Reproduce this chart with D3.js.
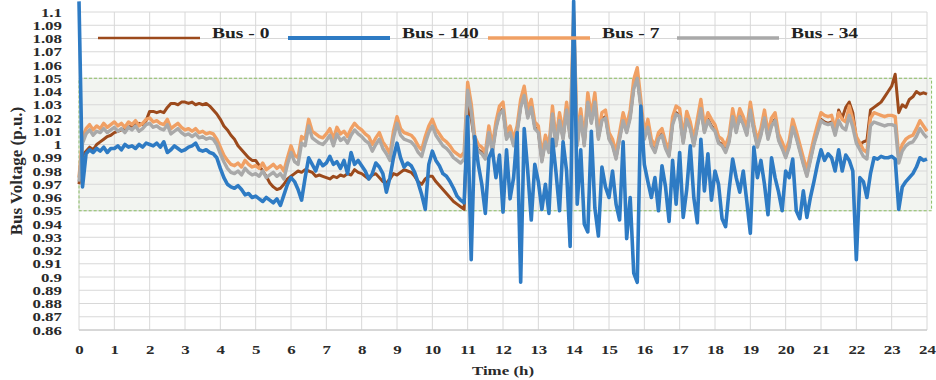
<!DOCTYPE html>
<html><head><meta charset="utf-8">
<script src="https://cdn.jsdelivr.net/npm/d3@7"></script>
<style>body{margin:0;background:#fff}svg{display:block}</style>
</head><body>
<svg id="c" width="936" height="380"></svg>
<script>
// ---- data ----
const seriesNames = ["Bus - 0", "Bus - 140", "Bus - 7", "Bus - 34"];
const xTicks = [0,1,2,3,4,5,6,7,8,9,10,11,12,13,14,15,16,17,18,19,20,21,22,23,24];
const yTicks = [0.86,0.87,0.88,0.89,0.9,0.91,0.92,0.93,0.94,0.95,0.96,0.97,0.98,0.99,1,1.01,1.02,1.03,1.04,1.05,1.06,1.07,1.08,1.09,1.1];
const limitLow = 0.95, limitHigh = 1.05;
const hours = d3.range(0, 241).map(i => i / 10); // sampling grid, 0.1 h
const bus0 = [
0.970,0.992,0.995,0.998,0.996,1.000,1.002,1.004,1.006,1.007,
1.009,1.010,1.011,1.012,1.013,1.014,1.015,1.016,1.015,1.018,
1.025,1.025,1.024,1.025,1.024,1.028,1.031,1.031,1.030,1.032,
1.032,1.031,1.032,1.030,1.031,1.030,1.031,1.029,1.026,1.023,
1.019,1.014,1.011,1.007,1.004,0.999,0.996,0.993,0.990,0.988,
0.988,0.984,0.980,0.976,0.971,0.968,0.966,0.967,0.970,0.974,
0.976,0.978,0.980,0.979,0.981,0.980,0.979,0.976,0.977,0.976,
0.975,0.974,0.976,0.975,0.977,0.976,0.978,0.977,0.981,0.979,
0.978,0.976,0.974,0.977,0.978,0.975,0.972,0.971,0.974,0.978,
0.977,0.979,0.981,0.980,0.979,0.976,0.972,0.970,0.974,0.976,
0.976,0.972,0.969,0.966,0.963,0.960,0.957,0.955,0.953,0.951,
1.030,1.020,1.002,0.996,0.994,0.990,1.010,0.995,1.013,1.024,
1.027,1.005,1.010,1.000,1.010,1.029,1.038,1.021,1.029,1.013,
1.010,0.988,1.003,0.995,1.024,1.000,1.019,1.005,1.027,1.006,
1.060,1.000,1.022,1.000,1.033,1.017,1.033,1.005,1.019,1.021,
1.005,1.000,0.990,1.005,1.019,1.010,1.021,1.043,1.051,1.029,
1.005,1.014,1.000,0.995,1.005,1.008,0.998,0.992,1.016,1.024,
1.022,1.002,1.020,1.013,1.000,1.014,1.028,1.010,1.019,1.014,
1.011,1.002,1.000,0.995,1.003,1.022,1.010,1.022,1.016,1.008,
1.027,1.011,0.999,1.008,1.021,1.005,1.015,1.019,1.004,0.998,
0.991,0.999,1.014,1.006,0.996,0.986,0.977,0.989,1.001,1.010,
1.019,1.017,1.016,1.017,1.008,1.026,1.020,1.028,1.032,1.024,
1.004,1.000,1.002,1.003,1.026,1.028,1.030,1.032,1.036,1.040,
1.044,1.053,1.024,1.030,1.028,1.034,1.036,1.040,1.038,1.039,
1.038];
const bus140 = [
1.108,0.968,0.993,0.996,0.994,0.997,0.995,0.998,0.994,0.997,
0.997,0.999,0.996,1.000,0.998,0.999,0.997,1.000,0.998,1.001,
1.000,0.999,1.001,0.998,1.002,0.994,0.996,0.999,0.997,0.995,
0.996,0.998,0.999,1.001,0.996,0.995,0.996,0.994,0.993,0.990,
0.982,0.975,0.970,0.968,0.967,0.969,0.966,0.962,0.963,0.960,
0.961,0.959,0.957,0.960,0.958,0.956,0.959,0.954,0.962,0.970,
0.975,0.972,0.966,0.958,0.975,0.990,0.985,0.980,0.988,0.984,
0.986,0.991,0.985,0.987,0.982,0.988,0.978,0.994,0.985,0.988,
0.984,0.980,0.974,0.978,0.986,0.983,0.978,0.964,0.975,0.990,
1.001,0.990,0.983,0.986,0.984,0.979,0.971,0.962,0.951,0.985,
0.995,0.988,0.984,0.978,0.976,0.972,0.967,0.961,0.958,0.956,
1.021,0.913,1.006,0.985,0.970,0.948,0.990,0.996,0.975,0.992,
0.949,0.996,0.959,0.975,1.009,0.896,1.012,0.980,0.943,0.985,
0.972,0.951,0.970,0.948,1.004,0.979,0.950,1.002,0.980,0.923,
1.108,0.955,0.996,0.940,0.934,1.010,0.952,0.931,0.983,0.968,
0.960,0.980,0.955,0.943,1.002,0.929,0.960,0.903,0.896,1.029,
0.985,0.972,0.960,0.975,0.950,0.984,0.968,0.942,0.988,0.955,
0.994,0.945,0.966,0.999,0.960,0.941,1.004,0.965,0.993,0.958,
0.980,0.970,0.944,0.938,0.966,0.989,0.975,0.964,0.980,0.957,
0.933,0.998,0.975,0.988,0.970,0.947,0.990,0.975,0.964,0.950,
0.980,0.975,0.989,0.950,0.944,0.965,0.945,0.960,0.972,0.985,
0.996,0.988,0.993,0.990,0.980,0.996,0.980,0.992,0.988,0.980,
0.913,0.975,0.972,0.960,0.978,0.990,0.989,0.991,0.990,0.990,
0.991,0.989,0.951,0.968,0.972,0.975,0.978,0.983,0.990,0.988,
0.989];
const bus7 = [
0.975,1.005,1.012,1.015,1.011,1.014,1.012,1.016,1.013,1.015,
1.017,1.014,1.016,1.013,1.017,1.015,1.018,1.014,1.016,1.019,
1.020,1.017,1.018,1.016,1.015,1.019,1.012,1.014,1.016,1.013,
1.011,1.012,1.010,1.012,1.009,1.010,1.008,1.009,1.008,1.004,
0.998,0.992,0.988,0.985,0.984,0.986,0.983,0.988,0.985,0.983,
0.984,0.982,0.986,0.981,0.983,0.985,0.982,0.984,0.980,0.990,
0.999,0.992,0.990,1.006,1.004,1.019,1.010,1.008,1.006,1.005,
1.008,1.012,1.004,1.013,1.008,1.010,1.006,1.012,1.016,1.013,
1.011,1.008,1.006,1.000,1.005,1.009,1.002,0.998,0.993,1.010,
1.021,1.012,1.009,1.008,1.007,1.004,0.999,0.996,1.006,1.014,
1.019,1.012,1.008,1.004,1.002,0.999,0.995,0.993,0.991,0.994,
1.047,1.031,1.006,1.000,0.998,0.994,1.014,0.999,1.017,1.029,
1.032,1.009,1.014,1.004,1.014,1.034,1.044,1.026,1.034,1.017,
1.014,0.992,1.007,0.999,1.029,1.004,1.024,1.009,1.032,1.010,
1.100,1.004,1.027,1.004,1.039,1.022,1.039,1.009,1.024,1.026,
1.009,1.004,0.994,1.009,1.024,1.014,1.026,1.049,1.058,1.034,
1.009,1.019,1.004,0.999,1.009,1.012,1.002,0.996,1.021,1.029,
1.027,1.006,1.025,1.017,1.004,1.019,1.034,1.014,1.024,1.019,
1.015,1.006,1.004,0.999,1.007,1.027,1.014,1.027,1.021,1.012,
1.032,1.015,1.003,1.012,1.026,1.009,1.020,1.024,1.008,1.002,
0.995,1.003,1.019,1.010,1.000,0.990,0.981,0.993,1.005,1.015,
1.024,1.022,1.021,1.022,1.012,1.024,1.019,1.017,1.029,1.019,
1.006,1.001,0.996,0.994,1.020,1.024,1.023,1.022,1.021,1.022,
1.022,1.021,0.991,1.000,1.004,1.006,1.007,1.012,1.018,1.014,
1.010];
const bus34 = [
0.972,1.001,1.008,1.011,1.007,1.010,1.009,1.012,1.009,1.011,
1.013,1.010,1.012,1.009,1.013,1.011,1.014,1.010,1.012,1.015,
1.016,1.013,1.014,1.012,1.011,1.015,1.008,1.010,1.012,1.009,
1.007,1.008,1.006,1.008,1.005,1.006,1.004,1.005,1.004,1.000,
0.993,0.987,0.982,0.979,0.978,0.980,0.977,0.982,0.979,0.977,
0.978,0.976,0.980,0.975,0.977,0.979,0.976,0.978,0.974,0.985,
0.994,0.987,0.985,1.001,0.999,1.014,1.005,1.003,1.001,1.000,
1.003,1.007,0.999,1.008,1.003,1.005,1.001,1.007,1.011,1.008,
1.006,1.003,1.001,0.995,1.000,1.004,0.997,0.993,0.988,1.005,
1.016,1.007,1.004,1.003,1.002,0.999,0.994,0.991,1.001,1.009,
1.014,1.007,1.003,0.999,0.997,0.994,0.990,0.988,0.986,0.989,
1.041,1.025,1.001,0.995,0.993,0.989,1.009,0.994,1.012,1.023,
1.026,1.004,1.009,0.999,1.009,1.028,1.037,1.020,1.028,1.012,
1.009,0.987,1.002,0.994,1.023,0.999,1.018,1.004,1.026,1.005,
1.092,0.999,1.021,0.999,1.032,1.016,1.032,1.004,1.018,1.020,
1.004,0.999,0.989,1.004,1.018,1.009,1.020,1.042,1.050,1.028,
1.004,1.013,0.999,0.994,1.004,1.007,0.997,0.991,1.015,1.023,
1.021,1.001,1.019,1.012,0.999,1.013,1.027,1.009,1.018,1.013,
1.010,1.001,0.999,0.994,1.002,1.021,1.009,1.021,1.015,1.007,
1.026,1.010,0.998,1.007,1.020,1.004,1.014,1.018,1.003,0.997,
0.990,0.998,1.013,1.005,0.995,0.985,0.976,0.988,1.000,1.009,
1.018,1.016,1.015,1.016,1.007,1.018,1.013,1.011,1.022,1.013,
1.001,0.996,0.991,0.989,1.014,1.017,1.016,1.015,1.014,1.015,
1.015,1.014,0.986,0.995,0.999,1.001,1.002,1.006,1.012,1.008,
1.005];
const seriesValues = [bus0, bus140, bus7, bus34];
const colors = ["#9c4a1c", "#2e7bc4", "#f0a064", "#a9a9a9"];
const drawOrder = [0, 2, 3, 1];

// ---- chart ----
const W = 936, H = 380;
const m = {l: 79, r: 9, t: 12, b: 50};
const svg = d3.select("#c");
const x = d3.scaleLinear().domain([0, 24]).range([m.l, W - m.r]);
const y = d3.scaleLinear().domain([0.86, 1.1]).range([H - m.b, m.t]);
const serif = "'Liberation Serif','Times New Roman',serif";
const SX = 1.3; // horizontal stretch of lettering seen in the reference

// limit band fill
svg.append("rect")
  .attr("x", x(0)).attr("y", y(limitHigh))
  .attr("width", x(24.13) - x(0)).attr("height", y(limitLow) - y(limitHigh))
  .attr("fill", "#f2f4f0");

// grid
const grid = svg.append("g");
grid.selectAll("line.h").data(yTicks).join("line")
  .attr("x1", x(0)).attr("x2", x(24)).attr("y1", d => y(d)).attr("y2", d => y(d))
  .attr("stroke", "#d8d8d8").attr("stroke-width", 1);
grid.selectAll("line.v").data(xTicks).join("line")
  .attr("y1", y(0.86)).attr("y2", y(1.1)).attr("x1", d => x(d)).attr("x2", d => x(d))
  .attr("stroke", "#d8d8d8").attr("stroke-width", 1);
grid.append("line").attr("x1", x(0)).attr("x2", x(24)).attr("y1", y(0.86)).attr("y2", y(0.86))
  .attr("stroke", "#c4c4c4");

// band dashed border on top of grid
svg.append("rect")
  .attr("x", x(0)).attr("y", y(limitHigh))
  .attr("width", x(24.13) - x(0)).attr("height", y(limitLow) - y(limitHigh))
  .attr("fill", "none").attr("stroke", "#8cc063").attr("stroke-width", 1)
  .attr("stroke-dasharray", "3,2");

// axes
const xAxis = d3.axisBottom(x).tickValues(xTicks).tickSize(0).tickPadding(0).tickFormat(d3.format("d"));
const gx = svg.append("g").attr("transform", `translate(0,${y(0.86) + 15})`).call(xAxis);
gx.select(".domain").remove();
gx.selectAll("text").attr("y", 0).attr("dy", "0.71em").attr("transform", `scale(${SX},1)`)
  .attr("font-family", serif).attr("font-weight", "bold")
  .attr("font-size", 13).attr("fill", "#2a2a2a");

const yAxis = d3.axisLeft(y).tickValues(yTicks).tickSize(0).tickPadding(0).tickFormat(d3.format(".2~f"));
const gy = svg.append("g").attr("transform", `translate(62,0)`).call(yAxis);
gy.select(".domain").remove();
gy.selectAll("text").attr("x", 0).attr("transform", `scale(${SX},1)`)
  .attr("font-family", serif).attr("font-weight", "bold")
  .attr("font-size", 13).attr("fill", "#2a2a2a");

// axis titles
svg.append("text").attr("transform", `translate(${x(12)},375) scale(${SX},1)`).attr("text-anchor", "middle")
  .attr("font-family", serif).attr("font-weight", "bold").attr("font-size", 13).attr("fill", "#2a2a2a")
  .text("Time (h)");
svg.append("text").attr("transform", `translate(22,${(y(0.86) + y(1.1)) / 2}) rotate(-90)`)
  .attr("text-anchor", "middle")
  .attr("font-family", serif).attr("font-weight", "bold").attr("font-size", 17).attr("fill", "#2a2a2a")
  .text("Bus Voltage (p.u.)");

// lines
const line = d3.line().x((d, i) => x(hours[i])).y(d => y(d));
const widths = [3, 3.6, 3.4, 3.4];
drawOrder.forEach(k => {
  svg.append("path").datum(seriesValues[k])
    .attr("d", line).attr("fill", "none")
    .attr("stroke", colors[k]).attr("stroke-width", widths[k])
    .attr("stroke-linejoin", "round");
});

// legend
const legendStartX = [98, 288, 488, 677];
const legendW = [2.5, 4, 3.5, 3.5];
const lg = svg.append("g");
seriesNames.forEach((name, k) => {
  const lx = legendStartX[k];
  lg.append("line").attr("x1", lx).attr("x2", lx + 102).attr("y1", 38).attr("y2", 38)
    .attr("stroke", colors[k]).attr("stroke-width", legendW[k]);
  lg.append("text").attr("transform", `translate(${lx + 114},38) scale(${SX},1)`)
    .attr("font-family", serif).attr("font-weight", "bold").attr("font-size", 15).attr("fill", "#222")
    .text(name);
});
</script>
</body></html>
